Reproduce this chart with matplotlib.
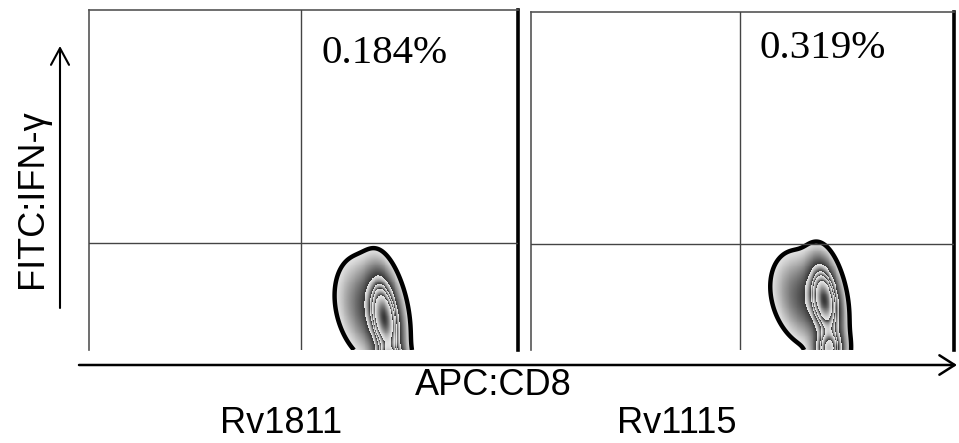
import numpy as np
import matplotlib
matplotlib.use("Agg")
import matplotlib.pyplot as plt
from matplotlib.patches import FancyArrowPatch

W, H, DPI = 959, 443, 100

# ---- data ----
samples = ["Rv1811", "Rv1115"]
percent_labels = ["0.184%", "0.319%"]
x_label = "APC:CD8"
y_label = "FITC:IFN-γ"
gate_x = [0.494, 0.494]
gate_y = [0.315, 0.314]

# density components per panel: (cx, cy, sx, sy, shear, weight)
density_left = [
    (0.655, 0.120, 0.040, 0.080, -0.13, 0.25),
    (0.690, 0.090, 0.020, 0.075, -0.10, 1.00),
    (0.700, -0.045, 0.020, 0.030, 0.00, 1.10),
]
density_right = [
    (0.650, 0.150, 0.042, 0.075, -0.15, 0.25),
    (0.695, 0.148, 0.020, 0.065, -0.10, 1.00),
    (0.705, 0.000, 0.020, 0.035, 0.00, 0.80),
]
densities = [density_left, density_right]
# contour levels as fraction of peak density
levels_left = [0.034, 0.31, 0.50, 0.62, 0.80]
levels_right = [0.038, 0.31, 0.50, 0.62, 0.80]
levels_all = [levels_left, levels_right]

# ---- helpers ----
def px_x(x):
    return x / W

def px_y(y):
    return 1 - y / H

def density(X, Y, comps):
    D = np.zeros_like(X)
    for cx, cy, sx, sy, k, w in comps:
        xc = cx + k * (Y - cy)
        D += w * np.exp(-0.5 * (((X - xc) / sx) ** 2 + ((Y - cy) / sy) ** 2))
    return D

def zebra_rgba(D, levels, peak):
    L = np.array(levels) * peak
    edges = np.append(L, D.max() * 1.0001)
    logD = np.log(np.maximum(D, 1e-300))
    loge = np.log(edges)
    idx = np.clip(np.searchsorted(edges, D, side="right") - 1, 0, len(L) - 1)
    lo = loge[idx]
    hi = loge[idx + 1]
    f = np.clip((logD - lo) / (hi - lo), 0, 1)
    g = 0.90 - 0.68 * f ** 1.5
    rgba = np.ones(D.shape + (4,))
    rgba[..., 0] = g
    rgba[..., 1] = g
    rgba[..., 2] = g
    rgba[..., 3] = (D >= L[0]).astype(float)
    return rgba, L[0]

fig = plt.figure(figsize=(W / DPI, H / DPI), dpi=DPI)
fig.patch.set_facecolor("white")

axes_px = [(89, 10, 518, 350), (531, 12, 954, 350)]

for i, (x0, y0, x1, y1) in enumerate(axes_px):
    ax = fig.add_axes([x0 / W, 1 - y1 / H, (x1 - x0) / W, (y1 - y0) / H])
    ax.set_xlim(0, 1)
    ax.set_ylim(0, 1)
    ax.set_xticks([])
    ax.set_yticks([])
    for s in ["left", "top"]:
        ax.spines[s].set_color("#555555")
        ax.spines[s].set_linewidth(1.2)
    ax.spines["right"].set_color("black")
    ax.spines["right"].set_linewidth(2.6)
    ax.spines["bottom"].set_visible(False)

    nx, ny = 900, 700
    xs = np.linspace(0, 1, nx)
    ys = np.linspace(0, 1, ny)
    X, Y = np.meshgrid(xs, ys)
    D = density(X, Y, densities[i])
    rgba, L0 = zebra_rgba(D, levels_all[i], 1.0)
    ax.imshow(rgba, extent=[0, 1, 0, 1], origin="lower", aspect="auto",
              interpolation="nearest", zorder=1)
    ax.contour(X, Y, D, levels=[L0], colors="black", linewidths=3.2, zorder=2)

    ax.axvline(gate_x[i], color="#444444", lw=1.0, zorder=3)
    ax.axhline(gate_y[i], color="#444444", lw=1.0, zorder=3)

# percent labels
pct_pos = [(385, 63), (823, 58)]
for (px, py), t in zip(pct_pos, percent_labels):
    fig.text(px_x(px), px_y(py), t, ha="center", va="baseline",
             fontsize=29.5, family="Liberation Serif", color="black")

# sample names
name_pos = [(281, 433), (677, 433)]
for (px, py), t in zip(name_pos, samples):
    fig.text(px_x(px), px_y(py), t, ha="center", va="baseline",
             fontsize=26, family="Liberation Sans", color="black")

fig.text(px_x(493), px_y(395), x_label, ha="center", va="baseline",
         fontsize=26, family="Liberation Sans", color="black")
fig.text(px_x(42), px_y(198.5), y_label, ha="center", va="baseline",
         rotation=90, rotation_mode="anchor",
         fontsize=26, family="Liberation Sans", color="black")

# axis arrows
xa = FancyArrowPatch((px_x(79), px_y(365)), (px_x(957), px_y(365)),
                     transform=fig.transFigure,
                     arrowstyle="->,head_length=1.1,head_width=0.7",
                     mutation_scale=10, lw=1.8, color="black",
                     shrinkA=0, shrinkB=0)
ya = FancyArrowPatch((px_x(60), px_y(308)), (px_x(60), px_y(46)),
                     transform=fig.transFigure,
                     arrowstyle="->,head_length=1.2,head_width=0.65",
                     mutation_scale=10, lw=1.5, color="black",
                     shrinkA=0, shrinkB=0)
fig.add_artist(xa)
fig.add_artist(ya)

fig.savefig("out.png", dpi=DPI)
